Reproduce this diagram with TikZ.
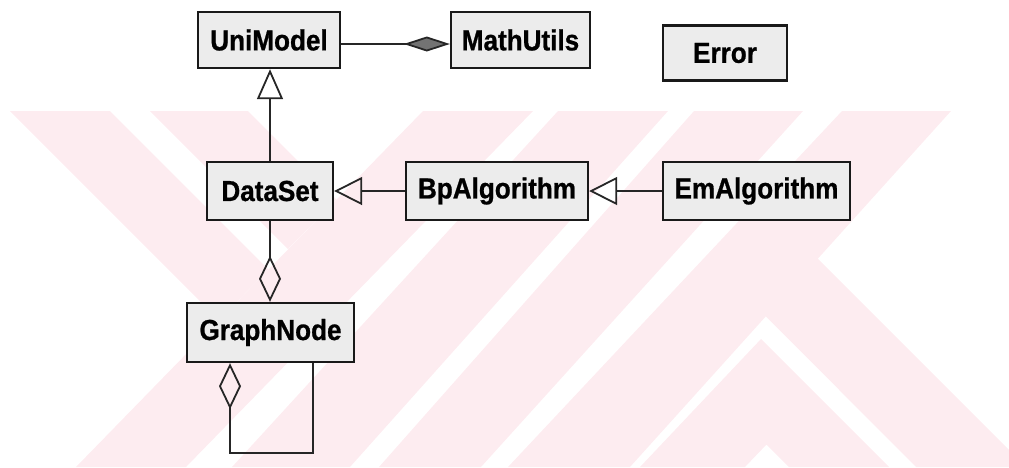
\documentclass[tikz,border=0pt]{standalone}
\usepackage{fontspec}
\newfontfamily\umlfont{Liberation Sans}[FakeStretch=0.9,FakeBold=0.8]
\usetikzlibrary{arrows.meta}
\definecolor{wm}{RGB}{253,236,240}
\definecolor{boxfill}{RGB}{236,236,236}
\begin{document}
\begin{tikzpicture}[x=1pt,y=-1pt,
  cls/.style={draw=black!90, line width=2.4pt, fill=boxfill, minimum height=56pt, inner sep=0pt,
              font=\umlfont\fontsize{29}{34}\selectfont\bfseries},
  conn/.style={draw=black!85, line width=1.8pt},
  gen/.style={conn, -{Triangle[open, length=28pt, width=28pt]}},
  genv/.style={conn, -{Triangle[open, length=30pt, width=26pt]}},
  agg/.style={conn, -{Diamond[open, length=46pt, width=22pt]}},
  aggs/.style={conn, {Diamond[open, length=46pt, width=22pt]}-},
  comp/.style={conn, -{Diamond[fill=black!55, length=46pt, width=15pt]}},
]
\useasboundingbox (0,0) rectangle (1009,467);
% watermark
\begin{scope}
  \clip (10,111) rectangle (1009,467);
  \fill[wm] (423,111) -- (533,111) -- (186,467) -- (76,467) -- cycle;
  \fill[wm] (558,111) -- (668,111) -- (350,467) -- (232,467) -- cycle;
  \fill[wm] (694,111) -- (803,111) -- (481,467) -- (379,467) -- cycle;
  \fill[wm] (842,111) -- (951,111) -- (630,467) -- (508,467) -- cycle;
  \fill[wm] (10,111) -- (110,111) -- (268.5,269.5) -- (219,320) -- cycle;
  \fill[wm] (150,111) -- (248,111) -- (336.6,199.6) -- (288,249) -- cycle;
  \fill[wm] (815,256) -- (1026,467) -- (916,467) -- (761.5,312) -- cycle;
  \fill[wm] (761,339) -- (889,467) -- (789,467) -- (766.5,444.5) -- (745,467) -- (640,467) -- cycle;
\end{scope}
% classes
\node[cls, minimum width=142pt] (UniModel) at (269,40) {UniModel};
\node[cls, minimum width=139pt] (MathUtils) at (520.5,40) {MathUtils};
\node[cls, minimum width=124pt, minimum height=55pt] (Error) at (725,53) {Error};
\node[cls, minimum width=126pt, minimum height=58pt] (DataSet) at (270,191) {DataSet};
\node[cls, minimum width=182pt, minimum height=58pt] (BpAlgorithm) at (497,191) {BpAlgorithm};
\node[cls, minimum width=187pt, minimum height=58pt] (EmAlgorithm) at (756.5,191) {EmAlgorithm};
\node[cls, minimum width=167pt, minimum height=59pt] (GraphNode) at (270.5,332.5) {GraphNode};
% connectors
\draw[comp] ([yshift=-4pt]UniModel.east) -- ([yshift=-4pt]MathUtils.west);
\draw[genv] (DataSet.north) -- (DataSet.north |- UniModel.south);
\draw[gen] (BpAlgorithm.west) -- (DataSet.east);
\draw[gen] (EmAlgorithm.west) -- (BpAlgorithm.east);
\draw[agg] (DataSet.south) -- (DataSet.south |- GraphNode.north);
\coordinate (loopA) at (230,453);
\coordinate (loopB) at (313,453);
\draw[aggs] (GraphNode.south -| loopA) -- (loopA) -- (loopB) -- (GraphNode.south -| loopB);
\end{tikzpicture}
\end{document}
